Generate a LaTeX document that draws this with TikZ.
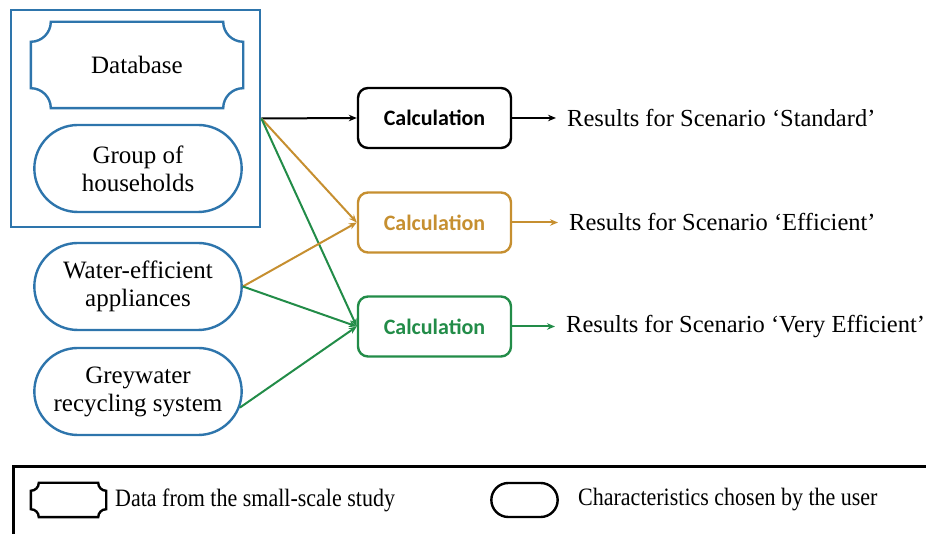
\documentclass[tikz,border=0pt]{standalone}
\usepackage{fontspec}
\setmainfont{Liberation Serif}
\newfontfamily\calcfont{Carlito}
\newfontfamily\condfont[FakeStretch=0.88]{Liberation Serif}
\usetikzlibrary{shapes.misc,arrows.meta}
\definecolor{bblue}{RGB}{46,117,172}
\definecolor{corange}{RGB}{198,143,48}
\definecolor{cgreen}{RGB}{34,140,72}
\newcommand{\myplaque}[3]{%
\draw[#1] ([xshift=#3]#2.north west) -- ([xshift=-#3]#2.north east)
  arc[start angle=180,end angle=270,radius=#3] -- ([yshift=#3]#2.south east)
  arc[start angle=90,end angle=180,radius=#3] -- ([xshift=#3]#2.south west)
  arc[start angle=0,end angle=90,radius=#3] -- ([yshift=-#3]#2.north west)
  arc[start angle=-90,end angle=0,radius=#3] -- cycle;}
\tikzset{
  txt/.style={font=\fontsize{25}{28}\selectfont, align=center},
  stadium/.style={rounded rectangle, draw=bblue, line width=2.4pt, minimum width=214pt, minimum height=87pt, txt},
  plaquebox/.style={rectangle, draw=none, minimum width=212pt, minimum height=86pt, txt},
  calc/.style={rectangle, rounded corners=10pt, line width=2.4pt, minimum width=153pt, minimum height=60pt, font=\calcfont\bfseries\fontsize{22}{25}\selectfont},
  res/.style={anchor=west, inner xsep=11pt, inner ysep=0pt, font=\fontsize{24.5}{28}\selectfont},
  conn/.style={line width=2pt, -{Stealth[length=8pt,width=6.5pt]}},
  legtxt/.style={anchor=west, inner sep=0pt, font=\condfont\fontsize{25}{28}\selectfont}
}
\begin{document}
\begin{tikzpicture}[x=1pt,y=1pt]
\useasboundingbox (0,0) rectangle (926,534);
% outer group box
\node[draw=bblue, line width=2.8pt, minimum width=249pt, minimum height=217pt, inner sep=0pt] (grp) at (135.5,415.5) {};
\node[plaquebox] (db) at (137,469) {Database};
\myplaque{draw=bblue, line width=2.4pt}{db}{20pt}
\node[stadium] (hh) at (138,365.5) {Group of\\households};
\node[stadium] (wa) at (138,247.5) {Water-efficient\\appliances};
\node[stadium] (gw) at (138,142.5) {Greywater\\recycling system};
% calculations
\node[calc, draw=black, text=black] (c1) at (434.5,416) {Calculation};
\node[calc, draw=corange, text=corange] (c2) at (434.5,311.5) {Calculation};
\node[calc, draw=cgreen, text=cgreen] (c3) at (434.5,207.5) {Calculation};
% results
\node[res] (r1) at (556,416) {Results for Scenario ‘Standard’};
\node[res] (r2) at (558,311.5) {Results for Scenario ‘Efficient’};
\node[res] (r3) at (555,207.5) {Results for Scenario ‘Very Efficient’};
% connectors
\draw[conn, black] (grp.east) -- (c1.west);
\draw[conn, corange] (grp.east) -- (c2.west);
\draw[conn, cgreen] (grp.east) -- (c3.west);
\draw[conn, corange] (wa.east) -- (c2.west);
\draw[conn, cgreen] (wa.east) -- (c3.west);
\draw[conn, cgreen] (gw.-9) -- (c3.west);
\draw[conn, black] (c1.east) -- (r1.west);
\draw[conn, corange] (c2.east) -- (r2.west);
\draw[conn, cgreen] (c3.east) -- (r3.west);
% legend
\node[draw=black, line width=3pt, minimum width=940pt, minimum height=74pt, anchor=north west, inner sep=0pt] (leg) at (12,69) {};
\node[rectangle, draw=none, minimum width=75pt, minimum height=34pt] (lp) at (68.5,34) {};
\myplaque{draw=black, line width=2.4pt}{lp}{8pt}
\node[legtxt] (lt1) at (115,34) {Data from the small-scale study};
\node[rounded rectangle, draw=black, line width=2.4pt, minimum width=73pt, minimum height=34pt] (ls) at (524.5,34) {};
\node[legtxt] (lt2) at (578,34) {Characteristics chosen by the user};
\end{tikzpicture}
\end{document}
